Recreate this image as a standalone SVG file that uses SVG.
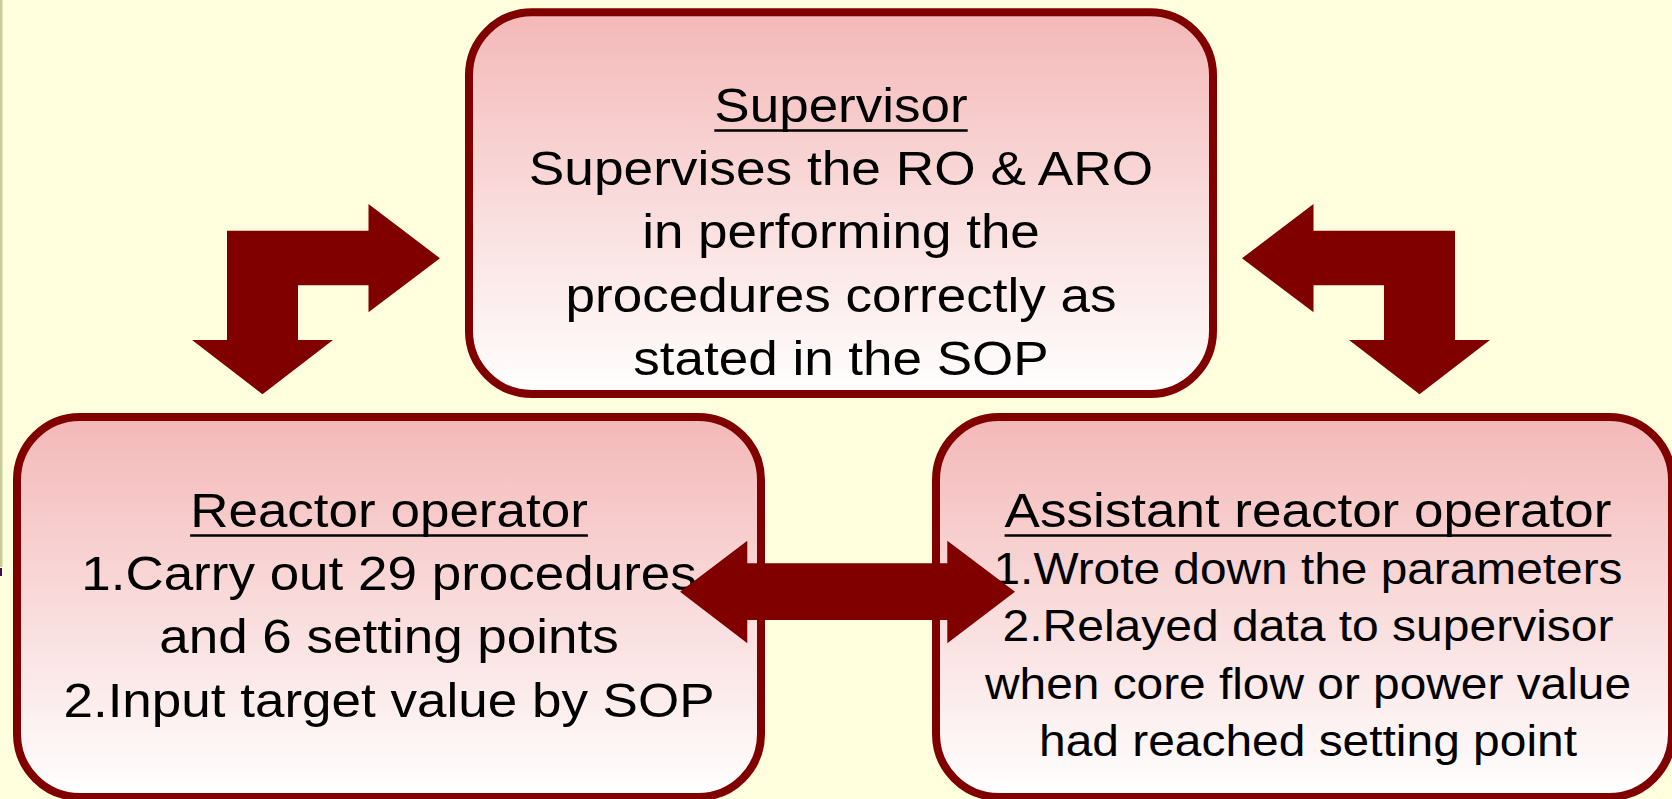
<svg xmlns="http://www.w3.org/2000/svg" width="1672" height="799" viewBox="0 0 1672 799">
  <defs>
    <linearGradient id="boxFill" x1="0" y1="0" x2="0" y2="1">
      <stop offset="0" stop-color="#F4B8B8"/>
      <stop offset="1" stop-color="#FFFFFF"/>
    </linearGradient>
  </defs>
  <style>
    .box { fill: url(#boxFill); stroke: #800000; stroke-width: 8; }
    .t { font-family: "Liberation Sans", Arial, sans-serif; font-size: 49px; fill: #000000; text-anchor: middle; }
    .ts { font-family: "Liberation Sans", Arial, sans-serif; font-size: 44.3px; fill: #000000; text-anchor: middle; }
    .ul { stroke: #000000; stroke-width: 2.5; }
    .arrow { fill: #800000; stroke: none; }
  </style>
  <rect x="0" y="0" width="1672" height="799" fill="#FFFFDD"/>
  <rect x="0" y="0" width="2.5" height="567" fill="#CCCC99"/>
  <rect x="0" y="568" width="2" height="8" fill="#3A1048"/>

  <g id="supervisor">
    <rect class="box" x="469" y="12.3" width="744" height="381.7" rx="63" ry="63"/>
    <text class="t" x="841" y="122" textLength="253.3" lengthAdjust="spacingAndGlyphs">Supervisor</text>
    <line class="ul" x1="714.3" y1="130.5" x2="967.7" y2="130.5"/>
    <text class="t" x="841" y="185.2" textLength="624.4" lengthAdjust="spacingAndGlyphs">Supervises the RO &amp; ARO</text>
    <text class="t" x="841" y="248.4" textLength="397.7" lengthAdjust="spacingAndGlyphs">in performing the</text>
    <text class="t" x="841" y="311.6" textLength="550.8" lengthAdjust="spacingAndGlyphs">procedures correctly as</text>
    <text class="t" x="841" y="374.8" textLength="415.4" lengthAdjust="spacingAndGlyphs">stated in the SOP</text>
  </g>

  <g id="reactor-operator">
    <rect class="box" x="17" y="417" width="744" height="380" rx="63" ry="63"/>
    <text class="t" x="389" y="526.7" textLength="397.7" lengthAdjust="spacingAndGlyphs">Reactor operator</text>
    <line class="ul" x1="190.1" y1="535.5" x2="587.9" y2="535.5"/>
    <text class="t" x="389" y="590" textLength="615.6" lengthAdjust="spacingAndGlyphs">1.Carry out 29 procedures</text>
    <text class="t" x="389" y="653.3" textLength="459.6" lengthAdjust="spacingAndGlyphs">and 6 setting points</text>
    <text class="t" x="389" y="716.6" textLength="651.1" lengthAdjust="spacingAndGlyphs">2.Input target value by SOP</text>
  </g>

  <g id="assistant-reactor-operator">
    <rect class="box" x="936" y="417" width="736" height="380" rx="63" ry="63"/>
    <text class="t" x="1308" y="526.7" textLength="606.8" lengthAdjust="spacingAndGlyphs">Assistant reactor operator</text>
    <line class="ul" x1="1004.6" y1="535.5" x2="1611.4" y2="535.5"/>
    <text class="ts" x="1308" y="584" textLength="629" lengthAdjust="spacingAndGlyphs">1.Wrote down the parameters</text>
    <text class="ts" x="1308" y="641" textLength="611" lengthAdjust="spacingAndGlyphs">2.Relayed data to supervisor</text>
    <text class="ts" x="1308" y="698.5" textLength="646" lengthAdjust="spacingAndGlyphs">when core flow or power value</text>
    <text class="ts" x="1308" y="756" textLength="538" lengthAdjust="spacingAndGlyphs">had reached setting point</text>
  </g>

  <g id="connectors">
    <polygon id="arrow-left-bent" class="arrow" points="440,258.3 368.5,312.3 368.5,285.3 298,285.3 298,340 333,340 262.5,394.3 192,340 227,340 227,230.7 368.5,230.7 368.5,204"/>
    <polygon id="arrow-right-bent" class="arrow" points="1242,258.3 1313.5,312.3 1313.5,285.3 1384,285.3 1384,340 1349,340 1419.5,394.3 1490,340 1455,340 1455,230.7 1313.5,230.7 1313.5,204"/>
    <polygon id="arrow-double" class="arrow" points="680,591.7 747.3,540.7 747.3,563.3 947.3,563.3 947.3,540.7 1015,591.7 947.3,643.3 947.3,620 747.3,620 747.3,643.3"/>
  </g>
</svg>
